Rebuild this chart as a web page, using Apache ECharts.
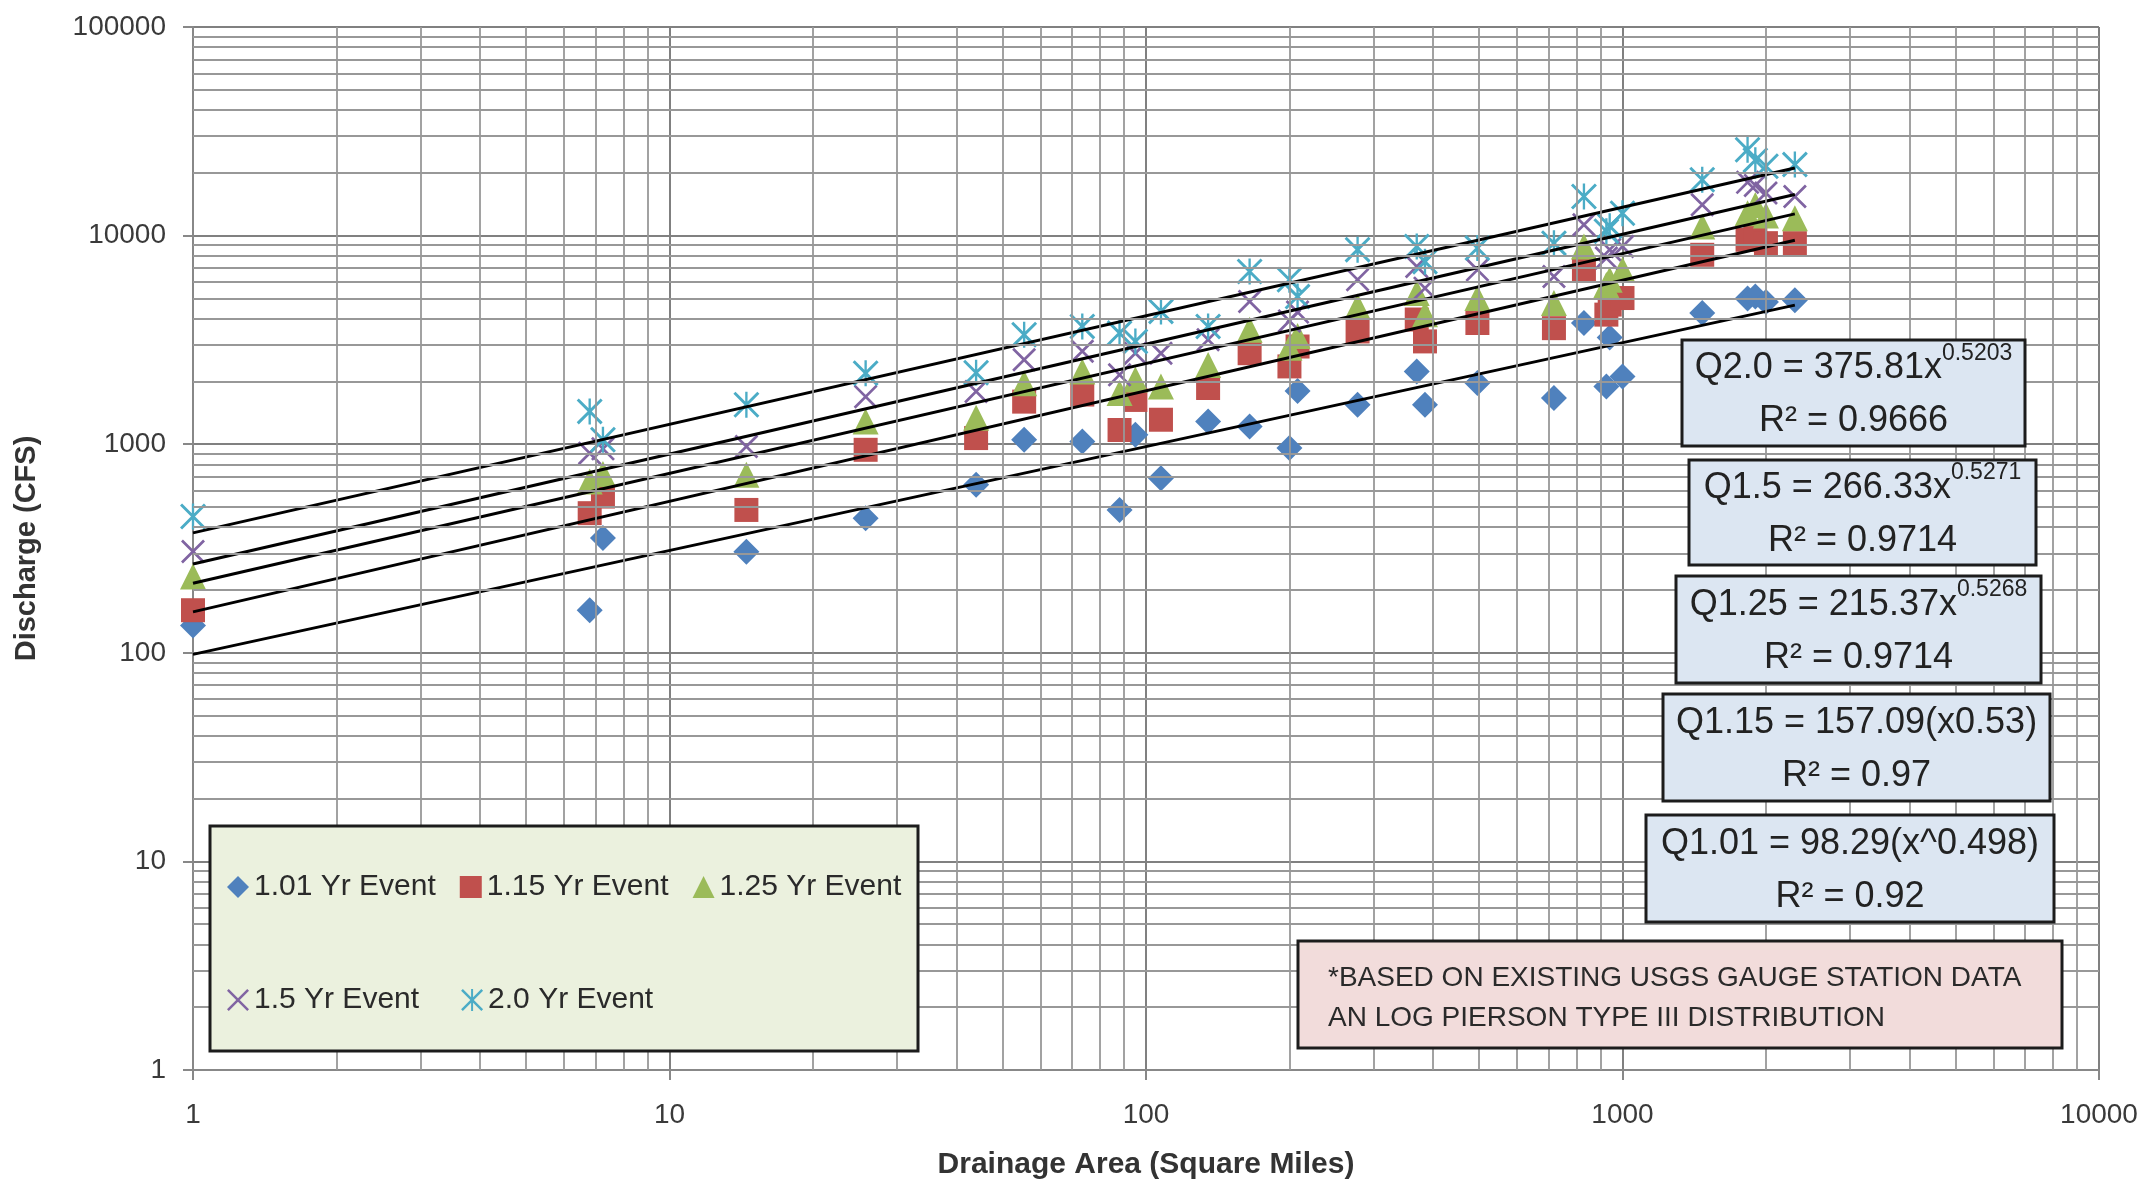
<!DOCTYPE html>
<html>
<head>
<meta charset="utf-8">
<script src="https://cdn.jsdelivr.net/npm/echarts@6/dist/echarts.min.js"></script>
<style>
html, body { margin: 0; padding: 0; background: #fff; }
#chart { width: 2151px; height: 1189px; }
</style>
</head>
<body>
<div id="chart"></div>
<script>
// drainage area of each gauge station (square miles)
var areas = [1, 6.8, 7.25, 14.5, 25.8, 44, 55.5, 73.5, 88, 95, 107.5, 135, 165, 200, 208,
  278, 370, 385, 496, 718, 830, 925, 940, 1000, 1470, 1830, 1900, 2000, 2300];
// discharge (cfs) per return period, same order as areas
var q101 = [135, 160, 355, 305, 442, 640, 1050, 1030, 484, 1110, 687, 1285, 1217, 960, 1800,
  1545, 2230, 1545, 1965, 1665, 3810, 1890, 3250, 2110, 4250, 5000, 5100, 4800, 4900];
var q115 = [160, 467, 561, 484, 940, 1070, 1600, 1730, 1170, 1630, 1310, 1860, 2730, 2360, 2940,
  3470, 3960, 3110, 3810, 3600, 6850, 4180, 4670, 5020, 8090, 9550, 9800, 9200, 9200];
var q125 = [232, 662, 720, 713, 1285, 1340, 1960, 2230, 1760, 2040, 1890, 2400, 3540, 2900, 3300,
  4570, 5300, 4200, 5020, 4750, 8870, 5800, 6150, 6850, 11070, 12800, 14000, 12500, 12100];
var q150 = [306, 906, 950, 975, 1690, 1790, 2540, 2790, 2150, 2730, 2730, 3170, 4830, 3900, 4300,
  6150, 7110, 5600, 6850, 6370, 11270, 7800, 8560, 8870, 14060, 18000, 17400, 16000, 15400];
var q200 = [450, 1436, 1050, 1545, 2190, 2200, 3350, 3670, 3410, 3110, 4330, 3670, 6730, 6140, 5100,
  8560, 8870, 7500, 8710, 9200, 15400, 10500, 11100, 12800, 18530, 25800, 23000, 21500, 21900];

var seriesNames = ['1.01 Yr Event', '1.15 Yr Event', '1.25 Yr Event', '1.5 Yr Event', '2.0 Yr Event'];
var seriesValues = [q101, q115, q125, q150, q200];

// power trend lines Q = a * x^b (as printed in the chart boxes)
var trendCoef = [98.29, 157.09, 215.37, 266.33, 375.81];
var trendExp = [0.498, 0.53, 0.5268, 0.5271, 0.5203];
var trendRange = [1, 2300];

var xDecades = [1, 10, 100, 1000, 10000];
var yDecades = [1, 10, 100, 1000, 10000, 100000];

var FONT = "'Liberation Sans', Arial, sans-serif";
var TXT = '#3a3a3a';

var colors = ['#4F81BD', '#C0504D', '#9BBB59', '#8064A2', '#4BACC6'];
var xPath = 'path://M0,1.6L1.6,0L20,18.4L18.4,20ZM18.4,0L20,1.6L1.6,20L0,18.4Z';
var starPath = 'path://M0,1.6L1.6,0L20,18.4L18.4,20ZM18.4,0L20,1.6L1.6,20L0,18.4ZM9.1,0L10.9,0L10.9,20L9.1,20Z';
var symbols = ['diamond', 'rect', 'triangle', xPath, starPath];
var sizes = [26, 24, 26, 24, 26];

function minorValues(decades) {
  var out = [];
  for (var i = 0; i < decades.length - 1; i++) {
    for (var k = 2; k <= 9; k++) out.push(k * decades[i]);
  }
  return out;
}

var gridLines = [];
minorValues(xDecades).forEach(function (v) { gridLines.push({ xAxis: v }); });
minorValues(yDecades).forEach(function (v) { gridLines.push({ yAxis: v }); });

var series = [{
  name: 'grid',
  type: 'scatter',
  data: [],
  silent: true,
  z: 1,
  markLine: {
    silent: true,
    symbol: ['none', 'none'],
    label: { show: false },
    animation: false,
    lineStyle: { color: '#989898', width: 1.8, type: 'solid' },
    emphasis: { disabled: true },
    data: gridLines
  }
}];

seriesNames.forEach(function (name, i) {
  series.push({
    name: name,
    type: 'scatter',
    symbol: symbols[i],
    symbolSize: sizes[i],
    itemStyle: { color: colors[i], opacity: 1 },
    z: 3,
    data: areas.map(function (a, j) { return [a, seriesValues[i][j]]; })
  });
});

trendCoef.forEach(function (a, i) {
  series.push({
    name: 'trend' + i,
    type: 'line',
    showSymbol: false,
    symbol: 'none',
    silent: true,
    z: 4,
    lineStyle: { color: '#000', width: 3 },
    data: trendRange.map(function (x) { return [x, a * Math.pow(x, trendExp[i])]; })
  });
});

function eqBox(x, y, w, h, line1, sup, line2) {
  var text = sup ? '{m|' + line1 + '}{s|' + sup + '}\n{m|' + line2 + '}' : '{m|' + line1 + '}\n{m|' + line2 + '}';
  return [
    { type: 'rect', z: 50, shape: { x: x, y: y, width: w, height: h },
      style: { fill: '#DCE6F2', stroke: '#1c1c1c', lineWidth: 3 } },
    { type: 'text', z: 51, x: x + w / 2, y: y + h / 2 + 2,
      style: {
        text: text, align: 'center', verticalAlign: 'middle',
        rich: {
          m: { fontSize: 36, fontFamily: FONT, fill: '#222', lineHeight: 53 },
          s: { fontSize: 23, fontFamily: FONT, fill: '#222', lineHeight: 30, verticalAlign: 'top' }
        }
      } }
  ];
}

var graphics = [].concat(
  eqBox(1682, 340, 343, 106, 'Q2.0 = 375.81x', '0.5203', 'R\u00b2 = 0.9666'),
  eqBox(1689, 460, 347, 105, 'Q1.5 = 266.33x', '0.5271', 'R\u00b2 = 0.9714'),
  eqBox(1676, 576, 365, 107, 'Q1.25 = 215.37x', '0.5268', 'R\u00b2 = 0.9714'),
  eqBox(1663, 694, 387, 107, 'Q1.15 = 157.09(x0.53)', null, 'R\u00b2 = 0.97'),
  eqBox(1646, 815, 408, 107, 'Q1.01 = 98.29(x^0.498)', null, 'R\u00b2 = 0.92'),
  [
    { type: 'rect', z: 50, shape: { x: 1298, y: 941, width: 764, height: 107 },
      style: { fill: '#F2DCDB', stroke: '#1c1c1c', lineWidth: 3 } },
    { type: 'text', z: 51, x: 1328, y: 998,
      style: {
        text: '*BASED ON EXISTING USGS GAUGE STATION DATA\nAN LOG PIERSON TYPE III DISTRIBUTION',
        align: 'left', verticalAlign: 'middle', fontSize: 28, fontFamily: FONT, fill: '#2a2a2a', lineHeight: 40
      } },
    { type: 'rect', z: 50, shape: { x: 210, y: 826, width: 708, height: 225 },
      style: { fill: '#EBF1DE', stroke: '#1c1c1c', lineWidth: 3 } }
  ]
);

var legendText = { fontSize: 30, fontFamily: FONT, color: '#2a2a2a' };

var option = {
  animation: false,
  backgroundColor: '#fff',
  grid: { left: 193, right: 52, top: 27, bottom: 119 },
  xAxis: {
    type: 'log', logBase: 10, min: 1, max: 10000,
    name: 'Drainage Area (Square Miles)', nameLocation: 'middle', nameGap: 80,
    nameTextStyle: { fontSize: 30, fontWeight: 'bold', fontFamily: FONT, color: '#333' },
    axisLine: { lineStyle: { color: '#888', width: 2 } },
    axisTick: { show: true, length: 10, lineStyle: { color: '#888', width: 2 } },
    axisLabel: { fontSize: 28, fontFamily: FONT, color: TXT, margin: 31,
      formatter: function (v) { return String(Math.round(v)); } },
    splitLine: { show: true, lineStyle: { color: '#808080', width: 2 } },
    minorTick: { show: false }
  },
  yAxis: {
    type: 'log', logBase: 10, min: 1, max: 100000,
    name: 'Discharge (CFS)', nameLocation: 'middle', nameGap: 152, nameRotate: 90,
    nameTextStyle: { fontSize: 29, fontWeight: 'bold', fontFamily: FONT, color: '#333' },
    axisLine: { lineStyle: { color: '#888', width: 2 } },
    axisTick: { show: true, length: 10, lineStyle: { color: '#888', width: 2 } },
    axisLabel: { fontSize: 28, fontFamily: FONT, color: TXT, margin: 27,
      formatter: function (v) { return String(Math.round(v)); } },
    splitLine: { show: true, lineStyle: { color: '#808080', width: 2 } }
  },
  legend: [
    { data: seriesNames.slice(0, 3), left: 222, top: 867, orient: 'horizontal', z: 60,
      itemWidth: 22, itemHeight: 22, itemGap: 24, textStyle: legendText, selectedMode: false },
    { data: seriesNames.slice(3), left: 222, top: 980, orient: 'horizontal', z: 60,
      itemWidth: 22, itemHeight: 22, itemGap: 42, textStyle: legendText, selectedMode: false }
  ],
  graphic: { elements: graphics },
  series: series
};

var chart = echarts.init(document.getElementById('chart'));
chart.setOption(option);
</script>
</body>
</html>
